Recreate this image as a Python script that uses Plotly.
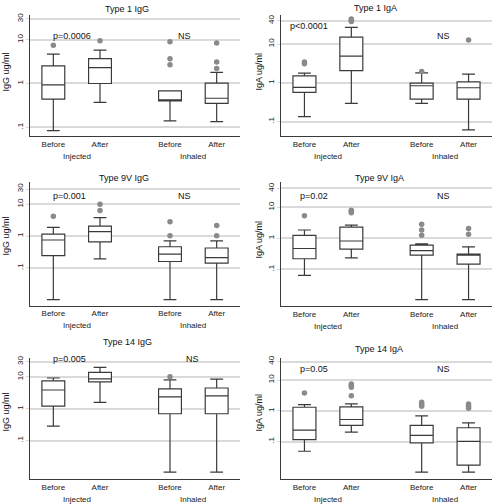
import plotly.graph_objects as go

W, H = 492, 504

positions = [1, 2, 3.5, 4.5]
categories = ["Before", "After", "Before", "After"]
groups = ["Injected", "Inhaled"]
group_pos = [1.5, 4.0]

titles = ["Type 1 IgG", "Type 1 IgA", "Type 9V IgG", "Type 9V IgA", "Type 14 IgG", "Type 14 IgA"]
ytitles = ["IgG ug/ml", "IgA ug/ml", "IgG ug/ml", "IgA ug/ml", "IgG ug/ml", "IgA ug/ml"]
igg_ticks = [0.1, 1, 10, 30]
igg_ticktext = [".1", "1", "10", "30"]
iga_ticks = [0.1, 1, 10, 40]
iga_ticktext = [".1", "1", "10", "40"]
pvalues = ["p=0.0006", "p<0.0001", "p=0.001", "p=0.02", "p=0.005", "p=0.05"]
ns_label = "NS"

# five-number summaries (lower whisker, q1, median, q3, upper whisker) per box
t1_igg_stats = [(0.084, 0.44, 0.93, 2.54, 4.7), (0.37, 1.0, 2.3, 3.7, 5.8),
                (0.14, 0.40, 0.415, 0.68, 0.68), (0.135, 0.35, 0.46, 1.02, 1.8)]
t1_igg_out = [[7.5], [9.5], [9.0, 3.7, 2.7], [8.4, 3.1, 2.2]]

t1_iga_stats = [(0.134, 0.565, 0.76, 1.5, 1.77), (0.295, 2.07, 4.9, 15.1, 27),
                (0.295, 0.38, 0.84, 0.98, 1.8), (0.061, 0.38, 0.745, 1.06, 1.67)]
t1_iga_out = [[3.45, 3.1], [44, 41, 38], [1.95], [12.7]]

t9_igg_stats = [(0.01, 0.243, 0.75, 1.15, 1.87), (0.19, 0.65, 1.37, 2.05, 3.8),
                (0.01, 0.158, 0.27, 0.46, 0.7), (0.01, 0.14, 0.21, 0.42, 0.7)]
t9_igg_out = [[4.2], [10, 6.3], [2.8, 1.02], [2.15, 1.02]]

t9_iga_stats = [(0.064, 0.22, 0.47, 1.25, 1.85), (0.236, 0.45, 0.82, 2.3, 2.66),
                (0.0107, 0.29, 0.40, 0.6, 0.66), (0.0107, 0.148, 0.29, 0.31, 0.53)]
t9_iga_out = [[5.3], [8.0, 7.3, 6.6], [2.8, 1.85, 1.25], [2.08, 1.34]]

t14_igg_stats = [(0.287, 1.21, 3.9, 7.5, 9.3), (1.6, 7.0, 8.7, 14, 20),
                 (0.0102, 0.70, 2.37, 4.2, 8.1), (0.0102, 0.70, 2.55, 4.5, 8.5)]
t14_igg_out = [[], [], [10.2], []]

t14_iga_stats = [(0.049, 0.116, 0.238, 1.31, 1.6), (0.205, 0.336, 0.525, 1.35, 1.68),
                 (0.0103, 0.091, 0.16, 0.336, 0.69), (0.0103, 0.0173, 0.1025, 0.283, 0.41)]
t14_iga_out = [[3.8], [7.4, 6.6, 5.8, 3.1], [1.9, 1.6, 1.41], [1.68, 1.41, 1.22]]

panel_stats = [t1_igg_stats, t1_iga_stats, t9_igg_stats, t9_iga_stats, t14_igg_stats, t14_iga_stats]
panel_out = [t1_igg_out, t1_iga_out, t9_igg_out, t9_iga_out, t14_igg_out, t14_iga_out]

# ---- layout geometry (pixels) ----
px_x = [(30, 240), (281, 492), (30, 240), (281, 492), (30, 240), (281, 492)]
px_y = [(12, 134), (12, 134), (180, 304.5), (180, 305), (357, 479), (357, 479)]
yranges = [(-1.205, 1.568), (-1.377, 1.75), (-2.19, 1.70), (-2.18, 1.81), (-2.21, 1.60), (-2.216, 1.72)]
title_px = [(127, 6), (375, 5), (124, 176), (379, 176), (127, 341), (379, 348)]
ytitle_px = [(6, 70), (259, 69), (6, 235), (259, 238), (6, 412), (259, 412)]
p_px = [(72, 33), (309, 23), (69, 194), (314, 194), (69, 358), (314, 368)]
ns_px = [(184, 33), (443, 33), (184, 194), (443, 194), (192, 358), (443, 368)]

FONT = "Liberation Sans, Arial, sans-serif"
LINE = "#3a3a3a"
GRID = "#dadada"
DOT = "#8a8a8a"

def px2x(p):
    return p / W

def px2y(p):
    return 1 - p / H

fig = go.Figure()
annotations = []

for i in range(6):
    k = "" if i == 0 else str(i + 1)
    xa, ya = "x" + k, "y" + k
    for j, (lw, q1, med, q3, uw) in enumerate(panel_stats[i]):
        fig.add_trace(go.Box(
            x=[positions[j]], q1=[q1], median=[med], q3=[q3],
            lowerfence=[lw], upperfence=[uw], boxpoints=False,
            width=0.49, whiskerwidth=0.56,
            fillcolor="white", line=dict(color=LINE, width=1.2),
            xaxis=xa, yaxis=ya, hoverinfo="skip", showlegend=False))
        outs = panel_out[i][j]
        if outs:
            fig.add_trace(go.Scatter(
                x=[positions[j]] * len(outs), y=outs, mode="markers",
                marker=dict(color=DOT, size=5.5), xaxis=xa, yaxis=ya,
                hoverinfo="skip", showlegend=False))

    igg = (i % 2 == 0)
    x0, x1 = px_x[i]
    yt, yb = px_y[i]
    fig.layout["xaxis" + k] = dict(
        domain=[px2x(x0), px2x(x1)], range=[0.5, 5.0],
        anchor=ya, showgrid=False, zeroline=False, showline=True,
        linecolor=LINE, linewidth=1, tickvals=positions, ticktext=categories,
        ticks="", tickfont=dict(size=8, color="#222", family=FONT))
    fig.layout["yaxis" + k] = dict(
        domain=[px2y(yb), px2y(yt)], type="log", range=list(yranges[i]),
        anchor=xa, showgrid=True, gridcolor=GRID, gridwidth=1.5,
        zeroline=False, showline=True, linecolor=LINE, linewidth=1,
        tickvals=igg_ticks if igg else iga_ticks,
        ticktext=igg_ticktext if igg else iga_ticktext,
        tickangle=-90, ticks="outside", ticklen=3, tickcolor=GRID,
        tickfont=dict(size=8, color="#222", family=FONT))

    for g, gp in zip(groups, group_pos):
        annotations.append(dict(
            x=gp, y=px2y(yb + 20), xref=xa, yref="paper", text=g,
            showarrow=False, xanchor="center", yanchor="middle",
            font=dict(size=8, color="#222", family=FONT)))
    annotations.append(dict(
        x=px2x(title_px[i][0]), y=px2y(title_px[i][1]), xref="paper", yref="paper",
        text=titles[i], showarrow=False, xanchor="center", yanchor="middle",
        font=dict(size=9, color="#111", family=FONT)))
    annotations.append(dict(
        x=px2x(ytitle_px[i][0]), y=px2y(ytitle_px[i][1]), xref="paper", yref="paper",
        text=ytitles[i], textangle=-90, showarrow=False, xanchor="center", yanchor="middle",
        font=dict(size=9, color="#111", family=FONT)))
    annotations.append(dict(
        x=px2x(p_px[i][0]), y=px2y(p_px[i][1]), xref="paper", yref="paper",
        text=pvalues[i], showarrow=False, xanchor="center", yanchor="middle",
        font=dict(size=9, color="#111", family=FONT)))
    annotations.append(dict(
        x=px2x(ns_px[i][0]), y=px2y(ns_px[i][1]), xref="paper", yref="paper",
        text=ns_label, showarrow=False, xanchor="center", yanchor="middle",
        font=dict(size=9, color="#111", family=FONT)))

fig.update_layout(
    width=W, height=H, margin=dict(l=0, r=0, t=0, b=0),
    paper_bgcolor="white", plot_bgcolor="white",
    showlegend=False, annotations=annotations,
    font=dict(family=FONT, size=8, color="#222"))

fig.write_html("out.html", config={"displayModeBar": False},
               post_script="document.body.style.margin='0';document.body.style.overflow='hidden';")
